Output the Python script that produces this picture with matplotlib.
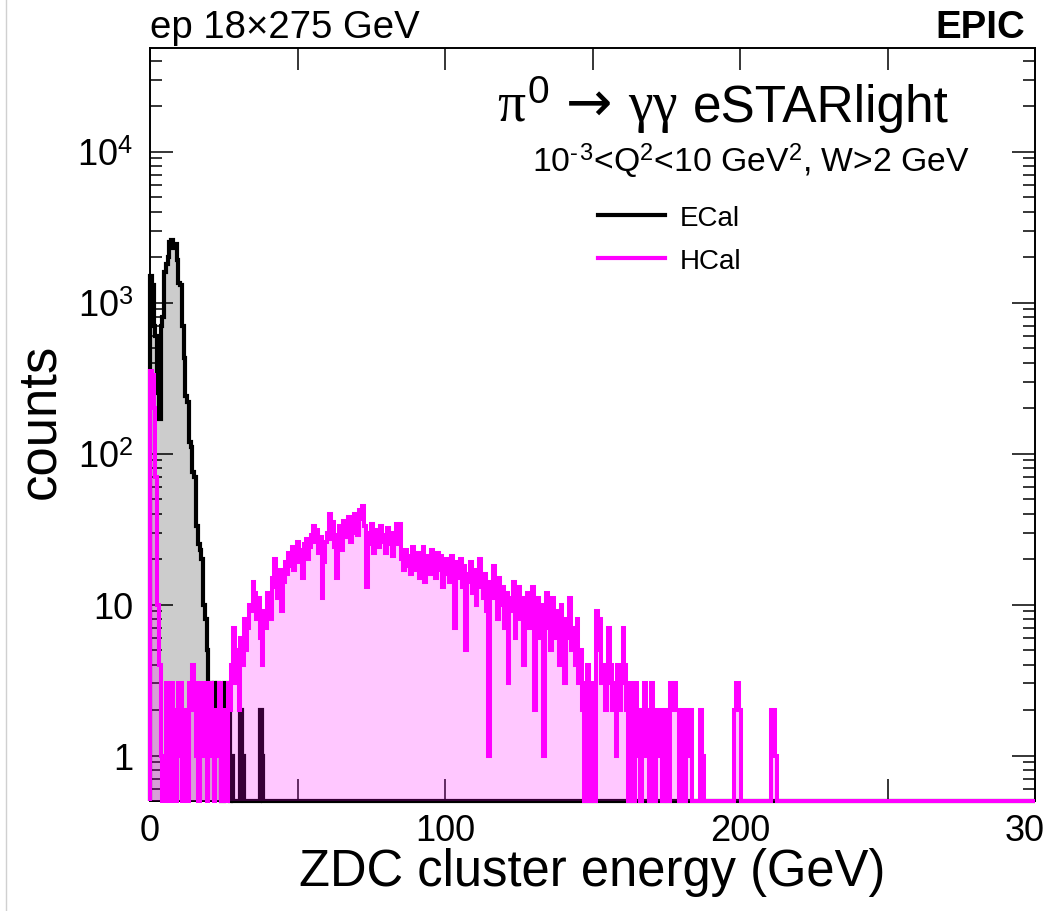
import numpy as np
import matplotlib
matplotlib.use("Agg")
import matplotlib.pyplot as plt
from matplotlib.lines import Line2D
from matplotlib.ticker import FixedLocator, FixedFormatter, LogLocator, NullFormatter

plt.rcParams['font.family'] = ['Liberation Sans', 'DejaVu Sans']
plt.rcParams['mathtext.fontset'] = 'custom'
plt.rcParams['mathtext.rm'] = 'Liberation Sans'
plt.rcParams['mathtext.it'] = 'Liberation Serif'
plt.rcParams['mathtext.sf'] = 'DejaVu Sans'
plt.rcParams['mathtext.bf'] = 'Liberation Sans:bold'

# ---------------- data (counts per 0.6 GeV bin, 0-300 GeV) ----------------
n_bins = 500
e_min, e_max = 0.0, 300.0

ecal_counts = [
    1500, 1300, 700, 600, 250, 170, 700, 800, 1600, 1800,
    2000, 2500, 2600, 2300, 2450, 1900, 1350, 1300, 700, 430,
    240, 220, 120, 110, 75, 70, 33, 25, 23, 20,
    10, 8, 5, 3, 3, 2, 3, 2, 3, 2,
    0, 0, 3, 3, 2, 0, 1, 0, 0, 0,
    0, 2, 1, 0, 0, 0, 0, 0, 0, 0,
    0, 0, 2, 1, 0, 0, 0, 0, 0, 0,
]

hcal_counts = [
    350, 330, 200, 70, 10, 4, 1, 0, 0, 3,
    1, 0, 3, 2, 0, 1, 3, 3, 0, 2,
    1, 0, 3, 2, 4, 3, 1, 0, 3, 2,
    1, 3, 0, 2, 3, 1, 0, 2, 1, 3,
    0, 1, 2, 0, 3, 2, 4, 7, 3, 5,
    2, 6, 4, 8, 5, 7, 10, 9, 14, 12,
    8, 11, 6, 4, 9, 7, 12, 10, 8, 15,
    20, 13, 11, 17, 9, 14, 19, 16, 22, 18,
    24, 17, 21, 26, 19, 23, 15, 25, 27, 20,
    24, 29, 33, 26, 31, 22, 28, 11, 19, 26,
    30, 40, 27, 35, 24, 15, 29, 33, 23, 36,
    28, 32, 38, 26, 30, 40, 35, 29, 42, 37,
    45, 33, 13, 30, 25, 34, 22, 28, 31, 24,
    33, 26, 29, 22, 32, 25, 30, 21, 27, 34,
    25, 34, 20, 17, 23, 18, 21, 16, 24, 19,
    17, 22, 15, 20, 24, 14, 18, 21, 16, 23,
    19, 15, 22, 17, 21, 13, 18, 20, 16, 14,
    21, 17, 7, 19, 15, 20, 13, 18, 5, 16,
    14, 19, 12, 17, 10, 15, 20, 13, 11, 16,
    9, 1, 14, 11, 18, 12, 8, 15, 10, 13,
    7, 12, 3, 11, 9, 14, 6, 10, 13, 8,
    11, 4, 9, 12, 7, 10, 13, 2, 8, 11,
    6, 10, 1, 9, 12, 7, 5, 11, 8, 6,
    9, 4, 10, 7, 3, 8, 6, 11, 5, 7,
    4, 8, 3, 5, 2, 0, 3, 4, 0, 2,
    3, 0, 9, 5, 8, 3, 4, 2, 3, 7,
    4, 2, 3, 1, 4, 2, 3, 7, 4, 2,
    0, 3, 2, 0, 3, 1, 2, 0, 2, 3,
    1, 2, 0, 3, 2, 0, 2, 1, 2, 0,
    0, 2, 0, 0, 3, 2, 3, 2, 2, 0,
    2, 2, 0, 2, 1, 2, 0, 0, 0, 0,
    0, 2, 1, 0, 0, 0, 0, 0, 0, 0,
    0, 0, 0, 0, 0, 0, 0, 0, 0, 0,
    2, 3, 3, 2, 0, 0, 0, 0, 0, 0,
    0, 0, 0, 0, 0, 0, 0, 0, 0, 0,
    0, 2, 2, 1, 0, 0, 0, 0, 0, 0,
]

series_labels = ["ECal", "HCal"]
x_tick_values = [0, 100, 200, 300]
x_tick_labels = ["0", "100", "200", "300"]
y_tick_values = [1, 10, 100, 1000, 10000]
y_tick_labels = ["1", "10", r"10$^{2}$", r"10$^{3}$", r"10$^{4}$"]

# ---------------- figure ----------------
W, H = 1043, 912
fig = plt.figure(figsize=(W / 100, H / 100), dpi=100)
L, R, T, B = 150, 1035, 49, 802
ax = fig.add_axes([L / W, 1 - B / H, (R - L) / W, (B - T) / H])

ymin, ymax = 0.5, 4.85e4
edges = np.linspace(e_min, e_max, n_bins + 1)

ecal = np.zeros(n_bins)
ecal[:len(ecal_counts)] = ecal_counts
hcal = np.zeros(n_bins)
hcal[:len(hcal_counts)] = hcal_counts

ec = np.where(ecal > 0, ecal, ymin)
hc = np.where(hcal > 0, hcal, ymin)

ax.set_yscale('log')
ax.set_xlim(e_min, e_max)
ax.set_ylim(ymin, ymax)

ax.stairs(ec, edges, baseline=ymin, fill=True, color='#cccccc', lw=0, zorder=1)
ax.stairs(ec, edges, baseline=ymin, color='black', lw=3.0, zorder=3,
          clip_on=False, joinstyle='miter')
ax.stairs(hc, edges, baseline=ymin, fill=True, color=(1, 0, 1, 0.22), lw=0, zorder=4)
ax.stairs(hc, edges, baseline=ymin, color='#ff00ff', lw=2.9, zorder=5,
          clip_on=False, joinstyle='miter')

# ticks
ax.xaxis.set_major_locator(FixedLocator(x_tick_values))
ax.xaxis.set_major_formatter(FixedFormatter(x_tick_labels))
ax.xaxis.set_minor_locator(FixedLocator([50, 150, 250]))
ax.yaxis.set_major_locator(FixedLocator(y_tick_values))
ax.yaxis.set_major_formatter(FixedFormatter(y_tick_labels))
ax.yaxis.set_minor_locator(LogLocator(base=10, subs=np.arange(2, 10), numticks=20))
ax.yaxis.set_minor_formatter(NullFormatter())

ax.tick_params(axis='both', which='both', direction='in', top=True, right=True,
               width=1.1, colors='black')
ax.tick_params(axis='x', which='both', length=15.5, pad=9, labelsize=26)
ax.tick_params(axis='y', which='major', length=16.5, pad=12, labelsize=26)
ax.tick_params(axis='y', which='minor', length=8.5)
for s in ax.spines.values():
    s.set_linewidth(1.4)
    s.set_zorder(2.5)

# axis titles
fig.text(592 / W, 1 - 886 / H, "ZDC cluster energy (GeV)", fontsize=36.5,
         ha='center', va='baseline')
fig.text(40 / W, 1 - 421 / H, "counts", fontsize=38, rotation=90,
         ha='center', va='center')

# header texts
fig.text(150 / W, 1 - 38 / H, "ep 18\u00d7275 GeV", fontsize=27.6, ha='left', va='baseline')
fig.text(1025 / W, 1 - 38 / H, "EPIC", fontsize=27.6, fontweight='bold',
         ha='right', va='baseline')
fig.text(497 / W, 1 - 122 / H, r"$\pi^{0}\,\mathsf{\rightarrow}\,\gamma\gamma$",
         fontsize=40, ha='left', va='baseline')
fig.text(693 / W, 1 - 122 / H, "eSTARlight", fontsize=37, ha='left', va='baseline')
fig.text(532 / W, 1 - 172 / H, "10$^{\u2010\u200a3}$<Q$^{2}$<10 GeV$^{2}$, W>2 GeV",
         fontsize=24.3, ha='left', va='baseline')

# legend
handles = [Line2D([], [], color='black', lw=3),
           Line2D([], [], color='#ff00ff', lw=3)]
ax.legend(handles, series_labels, loc='upper left',
          bbox_to_anchor=((598 - L) / (R - L), 1 - (206 - T) / (B - T)),
          frameon=False, fontsize=20, handlelength=2.4, handletextpad=0.55,
          labelspacing=0.6, borderaxespad=0, borderpad=0)

# thin grey border line at far left
fig.add_artist(Line2D([6 / W, 6 / W], [0, 1], color='#d0d0d0', lw=1))

fig.savefig("out.png", dpi=100)
